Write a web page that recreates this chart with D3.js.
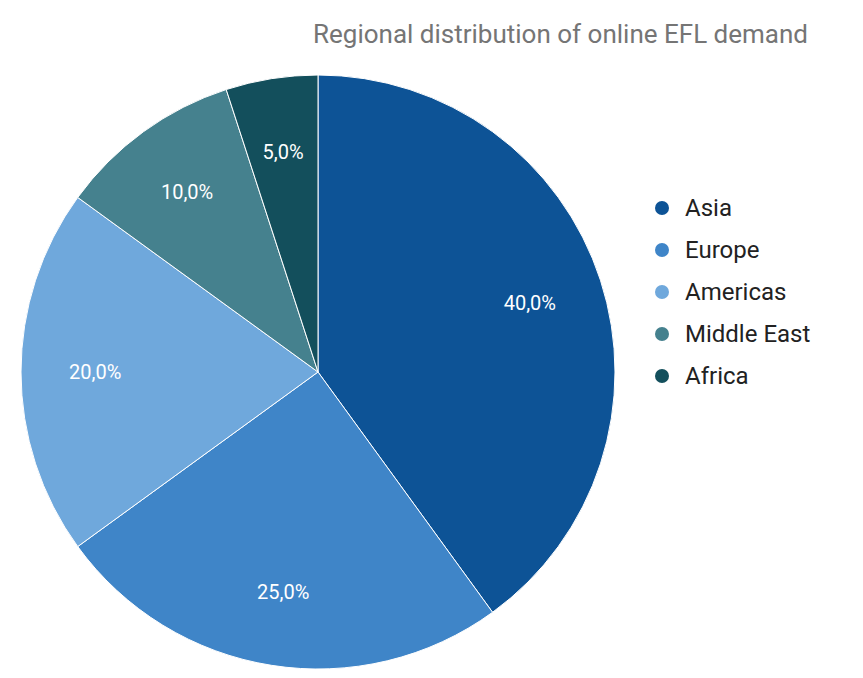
<!DOCTYPE html>
<html>
<head>
<meta charset="utf-8">
<script src="https://cdn.jsdelivr.net/npm/d3@7"></script>
<style>
body { margin: 0; background: #fff; }
text { font-family: Roboto, "Liberation Sans", Arial, sans-serif; }
</style>
</head>
<body>
<svg width="863" height="678"></svg>
<script>
var regions = ["Asia", "Europe", "Americas", "Middle East", "Africa"];
var shares = [40, 25, 20, 10, 5];
var colors = ["#0d5396", "#3f85c8", "#6fa8dc", "#45818e", "#134f5c"];

var svg = d3.select("svg");
var cx = 318, cy = 372, r = 297;

svg.append("text")
    .attr("x", 808).attr("y", 43)
    .attr("text-anchor", "end")
    .attr("font-size", 26)
    .attr("fill", "#757575")
    .text("Regional distribution of online EFL demand");

var data = regions.map(function (d, i) { return { name: d, value: shares[i], color: colors[i] }; });
var pie = d3.pie().sort(null).value(function (d) { return d.value; });
var arc = d3.arc().innerRadius(0).outerRadius(r);
var labelArc = d3.arc().innerRadius(r * 0.75).outerRadius(r * 0.75);

var g = svg.append("g").attr("transform", "translate(" + cx + "," + cy + ")");
var slices = g.selectAll("g.slice").data(pie(data)).enter().append("g").classed("slice", true);
slices.append("path")
    .attr("d", arc)
    .attr("fill", function (d) { return d.data.color; })
    .attr("stroke", "#fff")
    .attr("stroke-width", 1);
slices.append("text")
    .attr("transform", function (d) { return "translate(" + labelArc.centroid(d) + ")"; })
    .attr("dy", ".35em")
    .attr("text-anchor", "middle")
    .attr("font-size", 20)
    .attr("fill", "#fff")
    .text(function (d) { return d.data.value.toFixed(1).replace(".", ",") + "%"; });

var legend = svg.selectAll("g.legend").data(data).enter().append("g")
    .classed("legend", true)
    .attr("transform", function (d, i) { return "translate(662," + (208 + i * 42) + ")"; });
legend.append("circle").attr("r", 7).attr("fill", function (d) { return d.color; });
legend.append("text")
    .attr("x", 23).attr("dy", ".35em")
    .attr("font-size", 24)
    .attr("fill", "#222")
    .text(function (d) { return d.name; });
</script>
</body>
</html>
